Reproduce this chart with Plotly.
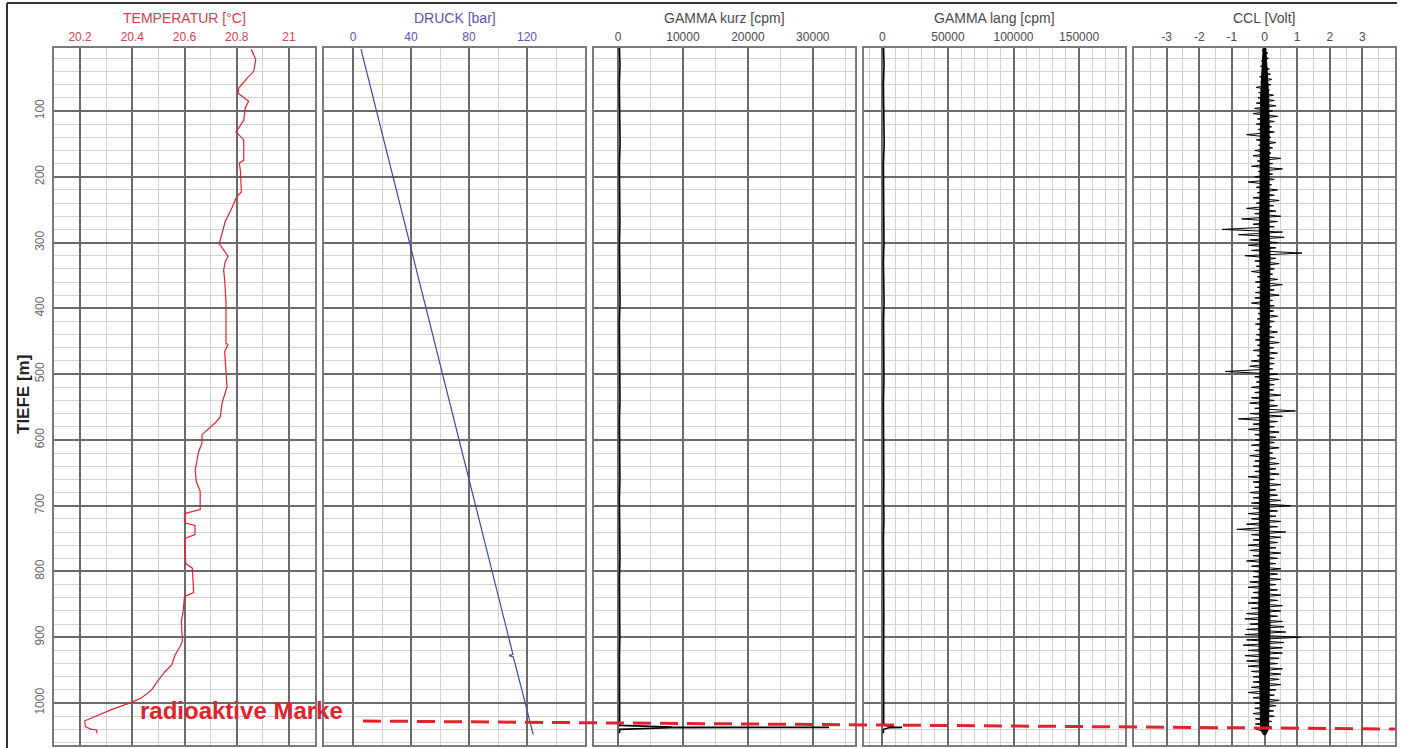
import numpy as np
import plotly.graph_objects as go

# ---------------- data ----------------
depth_ticks = [100, 200, 300, 400, 500, 600, 700, 800, 900, 1000]
depth_ticktext = ["100", "200", "300", "400", "500", "600", "700", "800", "900", "1000"]

temp_depth = [6, 22, 40, 50, 65, 73, 85, 95, 114, 132, 136, 144, 175, 179, 190, 223, 230, 247, 268, 288,
              302, 311, 321, 329, 342, 357, 392, 453, 455, 466, 494, 519, 544, 565, 574, 585, 592, 605, 618, 646,
              663, 678, 691, 706, 712, 726, 730, 744, 750, 788, 795, 832, 838, 860, 876, 906, 914, 927, 942, 952,
              965, 980, 992, 999, 1010, 1018, 1027, 1036, 1040, 1041, 1046]
temp_vals = [20.856, 20.873, 20.865, 20.840, 20.808, 20.805, 20.846, 20.833, 20.827, 20.797, 20.808, 20.827, 20.827, 20.810, 20.814, 20.818, 20.800, 20.782, 20.756, 20.744,
             20.733, 20.750, 20.767, 20.756, 20.750, 20.754, 20.759, 20.759, 20.766, 20.754, 20.759, 20.763, 20.744, 20.737, 20.718, 20.686, 20.667, 20.667, 20.654, 20.641,
             20.645, 20.660, 20.660, 20.660, 20.600, 20.600, 20.640, 20.640, 20.600, 20.605, 20.630, 20.635, 20.600, 20.595, 20.588, 20.592, 20.583, 20.564, 20.551, 20.526,
             20.500, 20.474, 20.436, 20.397, 20.320, 20.270, 20.218, 20.220, 20.244, 20.263, 20.265]
temp_ticks = [20.2, 20.4, 20.6, 20.8, 21.0]
temp_ticktext = ["20.2", "20.4", "20.6", "20.8", "21"]

press_depth = [6, 100, 200, 300, 400, 500, 600, 700, 800, 900, 926, 928, 930, 1000, 1048]
press_vals = [5.5, 16.2, 27.6, 39.0, 50.4, 61.8, 73.2, 84.6, 96.0, 107.4, 110.3, 107.6, 110.6, 118.8, 124.3]
press_ticks = [0, 40, 80, 120]
press_ticktext = ["0", "40", "80", "120"]

gamma_depth = [4, 30, 60, 90, 120, 150, 180, 210, 240, 270, 300, 330, 360, 390, 420, 450, 480, 510, 540, 570,
               600, 630, 660, 690, 720, 750, 780, 810, 840, 870, 900, 930, 960, 990, 1020, 1034, 1036.5, 1037, 1037.5, 1040, 1046]
gk_vals = [220, 300, 200, 260, 220, 320, 210, 250, 230, 290, 220, 260, 240, 310, 210, 250, 280, 230, 300, 220,
           250, 230, 290, 210, 260, 230, 300, 220, 270, 240, 280, 220, 250, 230, 270, 250, 8300, 32500, 8000, 260, 230]
gl_vals = [900, 1300, 800, 1100, 900, 1400, 800, 1000, 1100, 900, 1200, 800, 1000, 1300, 900, 1100, 1000, 1200, 800, 1000,
           1100, 900, 1100, 900, 1200, 800, 1000, 1100, 900, 1100, 1000, 1200, 900, 1000, 1100, 1000, 9000, 15000, 5000, 900, 800]
gk_ticks = [0, 10000, 20000, 30000]
gk_ticktext = ["0", "10000", "20000", "30000"]
gl_ticks = [0, 50000, 100000, 150000]
gl_ticktext = ["0", "50000", "100000", "150000"]

# CCL: dense core band (edges read every 40 m) plus spikes (every 4 m)
ccl_core_depth = [4, 40, 80, 120, 160, 200, 240, 280, 320, 360, 400, 440, 480, 520,
                  560, 600, 640, 680, 720, 760, 800, 840, 880, 920, 960, 1000, 1040, 1048]
ccl_core_left = [-0.04, -0.08, -0.12, -0.13, -0.13, -0.14, -0.14, -0.16, -0.15, -0.13, -0.13, -0.12, -0.14, -0.14,
                 -0.15, -0.14, -0.14, -0.15, -0.16, -0.15, -0.15, -0.17, -0.18, -0.18, -0.15, -0.14, -0.12, -0.04]
ccl_core_right = [0.04, 0.08, 0.13, 0.14, 0.14, 0.15, 0.15, 0.14, 0.17, 0.15, 0.15, 0.14, 0.15, 0.14,
                  0.14, 0.14, 0.15, 0.15, 0.15, 0.14, 0.15, 0.15, 0.17, 0.17, 0.15, 0.14, 0.12, 0.04]

ccl_depth_start = 4
ccl_depth_step = 4
ccl_vals = [
    0.05, -0.08, 0.10, -0.06, 0.12, -0.10, 0.08, -0.12, 0.15, -0.08,
    0.18, -0.15, 0.22, -0.12, 0.20, -0.25, 0.15, -0.18, 0.28, -0.20,
    0.30, -0.25, 0.35, -0.30, 0.25, -0.35, 0.40, -0.22, 0.30, -0.25,
    0.22, -0.20, 0.30, -0.55, 0.20, -0.25, 0.35, -0.18, 0.25, -0.30,
    0.20, -0.35, 0.50, -0.22, 0.25, -0.40, 0.55, -0.20, 0.25, -0.30,
    0.30, -0.50, 0.22, -0.25, 0.40, -0.22, 0.30, -0.35, 0.45, -0.25,
    0.28, -0.55, 0.35, -0.30, 0.50, -0.70, 0.40, -0.35, 0.30, -1.30,
    0.55, -0.80, 0.60, -0.45, 0.40, -0.50, 0.35, -0.40, 1.15, -0.60,
    0.35, -0.30, 0.45, -0.25, 0.30, -0.40, 0.25, -0.22, 0.40, -0.28,
    0.55, -0.22, 0.30, -0.28, 0.45, -0.30, 0.25, -0.40, 0.30, -0.22,
    0.28, -0.20, 0.40, -0.22, 0.30, -0.28, 0.22, -0.20, 0.40, -0.25,
    0.30, -0.28, 0.45, -0.22, 0.28, -0.35, 0.40, -0.22, 0.30, -0.40,
    0.30, -0.45, 0.25, -1.20, 0.40, -0.30, 0.45, -0.25, 0.30, -0.40,
    0.28, -0.30, 0.50, -0.40, 0.30, -0.45, 0.40, -0.30, 0.95, -0.45,
    0.55, -0.80, 0.40, -0.35, 0.30, -0.50, 0.45, -0.30, 0.35, -0.28,
    0.30, -0.40, 0.45, -0.30, 0.25, -0.45, 0.35, -0.30, 0.45, -0.35,
    0.35, -0.30, 0.45, -0.50, 0.30, -0.35, 0.50, -0.30, 0.35, -0.45,
    0.40, -0.35, 0.50, -0.40, 0.80, -0.35, 0.40, -0.50, 0.35, -0.40,
    0.50, -0.55, 0.40, -0.85, 0.65, -0.40, 0.50, -0.35, 0.40, -0.50,
    0.35, -0.45, 0.50, -0.35, 0.40, -0.55, 0.35, -0.40, 0.50, -0.35,
    0.40, -0.35, 0.50, -0.45, 0.35, -0.50, 0.40, -0.35, 0.50, -0.40,
    0.40, -0.50, 0.55, -0.40, 0.50, -0.55, 0.40, -0.60, 0.55, -0.45,
    0.60, -0.55, 0.65, -0.60, 1.10, -0.55, 0.60, -0.65, 0.55, -0.50,
    0.55, -0.60, 0.45, -0.55, 0.40, -0.50, 0.55, -0.40, 0.50, -0.35,
    0.45, -0.35, 0.50, -0.40, 0.35, -0.50, 0.30, -0.35, 0.45, -0.30,
    0.35, -0.30, 0.28, -0.35, 0.30, -0.28, 0.22, -0.28, 0.20, -0.25,
    0.05,
]
ccl_depth = ccl_depth_start + ccl_depth_step * np.arange(len(ccl_vals))
ccl_ticks = [-3, -2, -1, 0, 1, 2, 3]
ccl_ticktext = ["-3", "-2", "-1", "0", "1", "2", "3"]

# ---------------- style ----------------
W, H = 1402, 748
FONT = "Arial, Liberation Sans, sans-serif"
MAJOR = "#6a6a6a"
MINOR = "#d2d2d2"
BORDER = "#7a7a7a"
RED_TXT = "#d8404c"
RED_LINE = "#e3222c"
BLUE_TXT = "#5656b4"
BLUE_LINE = "#4646a6"
GRAY_TXT = "#4a4a4a"


def px_x(p):
    return p / W


def px_y(p):
    return 1 - p / H


panels = [(54, 315), (324, 585), (594, 855), (864, 1125), (1134, 1395)]
ydom = [px_y(745), px_y(48)]


def make_xaxis(i, rng, tickvals, ticktext, mdtick, mtick0, color):
    x0, x1 = panels[i]
    return dict(
        domain=[px_x(x0), px_x(x1)], range=rng, side="top", anchor="y",
        tickmode="array", tickvals=tickvals, ticktext=ticktext, ticks="",
        tickfont=dict(size=12, color=color, family=FONT),
        showgrid=True, gridcolor=MAJOR, gridwidth=1.5,
        minor=dict(tickmode="linear", tick0=mtick0, dtick=mdtick, showgrid=True,
                   gridcolor=MINOR, gridwidth=1, ticks=""),
        showline=True, mirror=True, linecolor=BORDER, linewidth=1.5,
        zeroline=False, fixedrange=True,
    )


fig = go.Figure()
fig.add_trace(go.Scatter(x=temp_vals, y=temp_depth, xaxis="x", yaxis="y", mode="lines",
                         line=dict(color=RED_LINE, width=1.2), showlegend=False))
fig.add_trace(go.Scatter(x=press_vals, y=press_depth, xaxis="x2", yaxis="y", mode="lines",
                         line=dict(color=BLUE_LINE, width=1.2), showlegend=False))
fig.add_trace(go.Scatter(x=gk_vals, y=gamma_depth, xaxis="x3", yaxis="y", mode="lines",
                         line=dict(color="black", width=1.6), showlegend=False))
fig.add_trace(go.Scatter(x=gl_vals, y=gamma_depth, xaxis="x4", yaxis="y", mode="lines",
                         line=dict(color="black", width=1.6), showlegend=False))
fig.add_trace(go.Scatter(x=list(ccl_core_right) + list(ccl_core_left)[::-1],
                         y=list(ccl_core_depth) + list(ccl_core_depth)[::-1],
                         xaxis="x5", yaxis="y", mode="lines", fill="toself", fillcolor="black",
                         line=dict(color="black", width=1), showlegend=False))
fig.add_trace(go.Scatter(x=ccl_vals, y=ccl_depth, xaxis="x5", yaxis="y", mode="lines",
                         line=dict(color="black", width=1), showlegend=False))

layout = dict(
    width=W, height=H, margin=dict(l=0, r=0, t=0, b=0),
    paper_bgcolor="white", plot_bgcolor="white", showlegend=False,
    xaxis=make_xaxis(0, [20.1, 21.1], temp_ticks, temp_ticktext, 0.1, 20.1, RED_TXT),
    xaxis2=make_xaxis(1, [-20, 160], press_ticks, press_ticktext, 20, -20, BLUE_TXT),
    xaxis3=make_xaxis(2, [-3700, 36500], gk_ticks, gk_ticktext, 5000, -5000, GRAY_TXT),
    xaxis4=make_xaxis(3, [-14000, 185000], gl_ticks, gl_ticktext, 10000, 0, GRAY_TXT),
    xaxis5=make_xaxis(4, [-4, 4], ccl_ticks, ccl_ticktext, 0.5, 0, GRAY_TXT),
    yaxis=dict(
        domain=ydom, range=[1063.8, 4.2], anchor="x",
        tickmode="array", tickvals=depth_ticks, ticktext=depth_ticktext, ticks="",
        tickangle=-90, ticklabelstandoff=3,
        tickfont=dict(size=12, color="#666666", family=FONT),
        showgrid=True, gridcolor=MAJOR, gridwidth=1.5,
        minor=dict(tickmode="linear", tick0=0, dtick=20, showgrid=True,
                   gridcolor=MINOR, gridwidth=1, ticks=""),
        showline=True, mirror="all", linecolor=BORDER, linewidth=1.5,
        zeroline=False, fixedrange=True,
    ),
)
fig.update_layout(**layout)

titles = [("TEMPERATUR [°C]", RED_TXT), ("DRUCK [bar]", BLUE_TXT), ("GAMMA kurz [cpm]", GRAY_TXT),
          ("GAMMA lang [cpm]", GRAY_TXT), ("CCL [Volt]", GRAY_TXT)]
for (x0, x1), (txt, col) in zip(panels, titles):
    fig.add_annotation(text=txt, xref="paper", yref="paper", x=px_x((x0 + x1) / 2), y=px_y(18),
                       xanchor="center", yanchor="middle", showarrow=False,
                       font=dict(size=14, color=col, family=FONT))

fig.add_annotation(text="<b>TIEFE [m]</b>", xref="paper", yref="paper", x=px_x(23), y=px_y(395),
                   textangle=-90, showarrow=False, xanchor="center", yanchor="middle",
                   font=dict(size=17, color="#222222", family=FONT))

fig.add_annotation(text="<b>radioaktive Marke</b>", xref="x", yref="y", x=20.42, y=1012,
                   xanchor="left", yanchor="middle", showarrow=False,
                   font=dict(size=24, color=RED_LINE, family=FONT))

# dashed marker line across panels
fig.add_shape(type="line", xref="paper", yref="paper", x0=px_x(363), y0=px_y(721), x1=px_x(1395), y1=px_y(729),
              line=dict(color=RED_LINE, width=3, dash="18px,9px"), layer="above")

# outer frame (top and left)
fig.add_shape(type="line", xref="paper", yref="paper", x0=px_x(7), y0=px_y(3), x1=px_x(1397), y1=px_y(3),
              line=dict(color="#333333", width=2))
fig.add_shape(type="line", xref="paper", yref="paper", x0=px_x(7), y0=px_y(3), x1=px_x(7), y1=0,
              line=dict(color="#333333", width=2))

fig.write_html("out.html", config={"displayModeBar": False},
               post_script="document.body.style.margin='0';document.body.style.overflow='hidden';")
